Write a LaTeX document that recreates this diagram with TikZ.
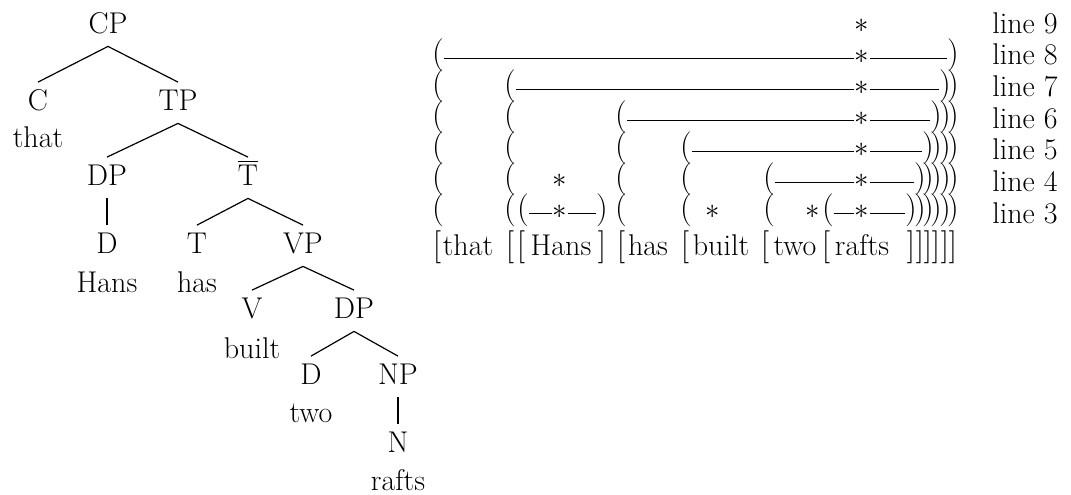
\documentclass[tikz,border=0pt]{standalone}
\usepackage{tikz}
\usetikzlibrary{positioning}

\begin{document}
\begin{tikzpicture}[
  x=0.5pt,y=-0.5pt,
  font=\fontsize{15}{18}\selectfont,
  cat/.style={anchor=base,text height=10.25pt,text depth=3pt,inner sep=3.5pt},
  word/.style={anchor=base,inner sep=0pt},
  paren/.style={anchor=base,inner sep=0pt,font=\fontsize{16.5}{18}\selectfont},
  branch/.style={line width=0.6pt},
  gridline/.style={line width=0.5pt},
  beat/.style={anchor=base,inner sep=0.6pt,fill=white}
]
  \useasboundingbox (0,0) rectangle (1071,494);

  \node[cat] (cp) at (108,33) {CP};
  \node[cat] (c) at (38,110) {C};
  \node[word] (that) at (38,147) {that};
  \node[cat] (tp) at (178,110) {TP};
  \node[cat] (dpa) at (107,185) {DP};
  \node[cat] (tbar) at (248,185) {$\overline{\mbox{T}}$};
  \node[cat] (da) at (107,253) {D};
  \node[word] (hans) at (107,292) {Hans};
  \node[cat] (t) at (197,253) {T};
  \node[word] (has) at (197,292) {has};
  \node[cat] (vp) at (303,253) {VP};
  \node[cat] (v) at (252,318) {V};
  \node[word] (built) at (252,358) {built};
  \node[cat] (dpb) at (354,318) {DP};
  \node[cat] (db) at (311,384) {D};
  \node[word] (two) at (311,422) {two};
  \node[cat] (np) at (398,384) {NP};
  \node[cat] (n) at (398,452) {N};
  \node[word] (rafts) at (398,490) {rafts};

  \draw[branch] (cp.south)--(c.north);
  \draw[branch] (cp.south)--(tp.north);
  \draw[branch] (tp.south)--(dpa.north);
  \draw[branch] (tp.south)--(tbar.north);
  \draw[branch] (dpa.south)--(da.north);
  \draw[branch] (tbar.south)--(t.north);
  \draw[branch] (tbar.south)--(vp.north);
  \draw[branch] (vp.south)--(v.north);
  \draw[branch] (vp.south)--(dpb.north);
  \draw[branch] (dpb.south)--(db.north);
  \draw[branch] (dpb.south)--(np.north);
  \draw[branch] (np.south)--(n.north);

  \foreach \col/\xl/\xr/\hi in {A/438/953/8,B/510/945/7,C/621/936/6,D/686/928/5,E/769/920/4,F/828/911/3} {
    \foreach \k in {3,...,\hi} {
      \node[paren] (o\col\k) at (\xl,{32+(9-\k)*31}) {(};
      \node[paren] (c\col\k) at (\xr,{32+(9-\k)*31}) {)};
    }
    \draw[gridline] (o\col\hi.mid east)--(c\col\hi.mid west);
    \node[paren] (e\col) at (\xr,255) {]};
  }
  \node[paren] (oH) at (523,218) {(};
  \node[paren] (cH) at (602,218) {)};
  \draw[gridline] (oH.mid east)--(cH.mid west);

  \foreach \k in {3,...,9}
    \node[beat] (s\k) at (862,{32+(9-\k)*31}) {$\ast$};
  \node[beat] (sH4) at (560,187) {$\ast$};
  \node[beat] (sH3) at (560,218) {$\ast$};
  \node[beat] (sbuilt) at (713,218) {$\ast$};
  \node[beat] (stwo) at (813,218) {$\ast$};

  \node[paren] (bA) at (437,255) {[};
  \node[word] (wthat) at (468,255) {that};
  \node[paren] (bB) at (510,255) {[};
  \node[paren] (bH) at (521,255) {[};
  \node[word] (whans) at (561,255) {Hans};
  \node[paren] (eH) at (602,255) {]};
  \node[paren] (bC) at (621,255) {[};
  \node[word] (whas) at (648,255) {has};
  \node[paren] (bD) at (685,255) {[};
  \node[word] (wbuilt) at (721,255) {built};
  \node[paren] (bE) at (765,255) {[};
  \node[word] (wtwo) at (795,255) {two};
  \node[paren] (bF) at (826,255) {[};
  \node[word] (wrafts) at (862,255) {rafts};

  \foreach \k in {3,...,9}
    \node[word,anchor=base west] (l\k) at (992,{33+(9-\k)*31.7}) {line \k};
\end{tikzpicture}
\end{document}
